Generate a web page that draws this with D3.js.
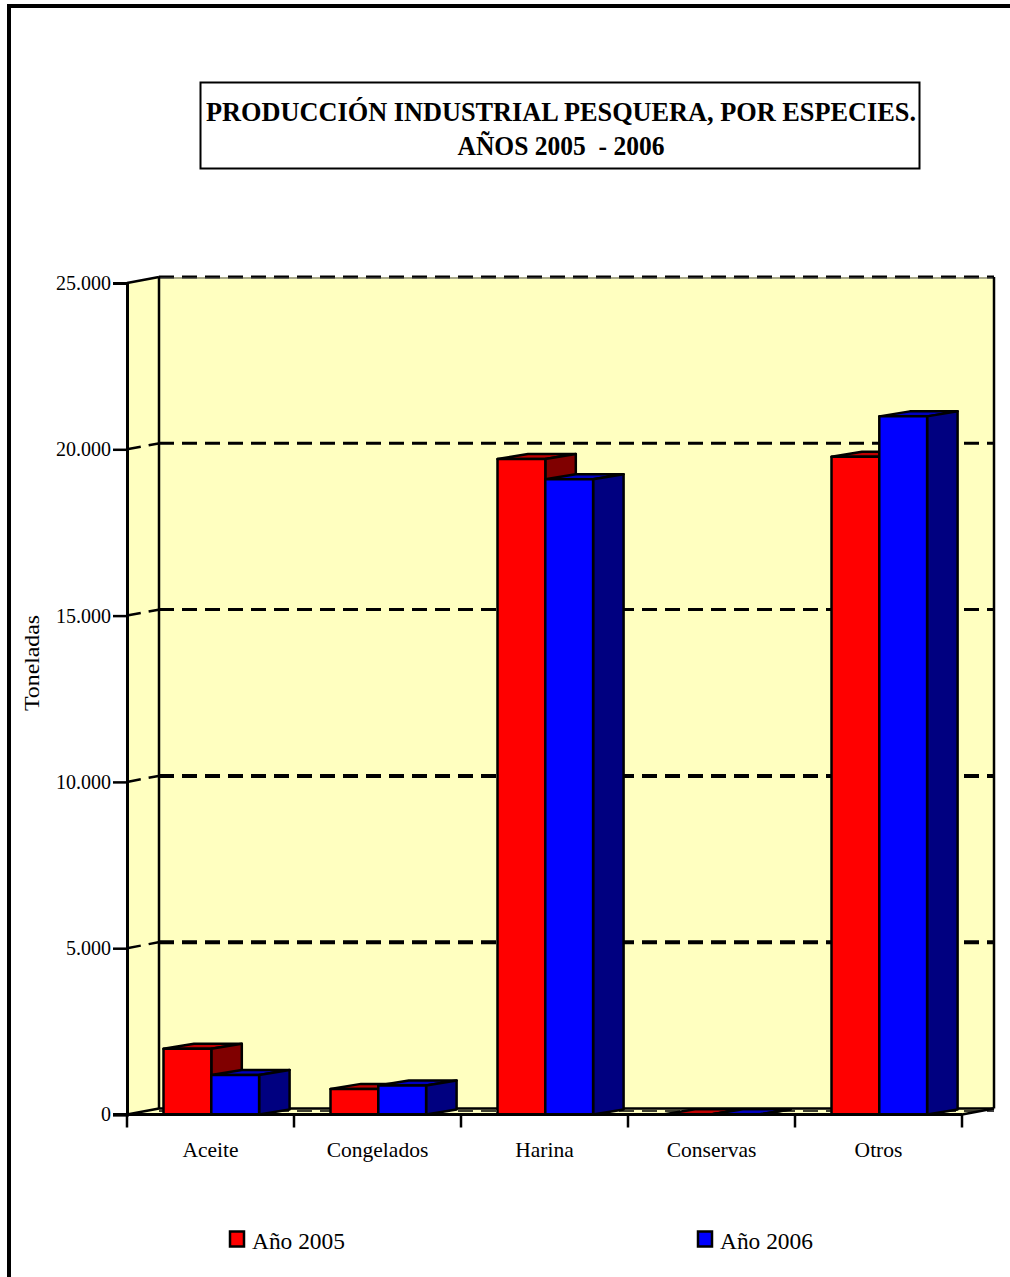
<!DOCTYPE html>
<html>
<head>
<meta charset="utf-8">
<script src="https://cdn.jsdelivr.net/npm/d3@7"></script>
<style>
html, body { margin: 0; padding: 0; background: #fff; overflow: hidden; }
text { font-family: "Liberation Serif", serif; fill: #000; }
</style>
</head>
<body>
<script>
var categories = ['Aceite', 'Congelados', 'Harina', 'Conservas', 'Otros'];
var series = ['Año 2005', 'Año 2006'];
var values2005 = [1975, 770, 19710, 10, 19775];
var values2006 = [1190, 875, 19100, 5, 20990];
var yTicks = [0, 5000, 10000, 15000, 20000, 25000];
var yTickLabels = ['0', '5.000', '10.000', '15.000', '20.000', '25.000'];
var titleLines = ['PRODUCCIÓN INDUSTRIAL PESQUERA, POR ESPECIES.', 'AÑOS 2005  - 2006'];

var width = 1010, height = 1277;

// front plane of the 3d box
var frontLeft = 127, frontRight = 962, baseY = 1114.5, topY = 283;
var wallDx = 32, wallDy = -6;   // back wall offset
var barDx = 30.5, barDy = -5;   // bar depth offset

var svg = d3.select('body').append('svg')
    .attr('width', width)
    .attr('height', height)
    .style('display', 'block');

var x = d3.scaleBand().domain(categories).range([frontLeft, frontRight]);
var y = d3.scaleLinear().domain([0, 25000]).range([baseY, topY]);

var pts = function(list) {
    return list.map(function(p) { return p[0] + ',' + p[1]; }).join(' ');
};

// outer frame
svg.append('path')
    .attr('d', 'M9,1277V6H1010')
    .attr('fill', 'none')
    .attr('stroke', '#000')
    .attr('stroke-width', 4);

// title box
svg.append('rect')
    .attr('x', 200.5).attr('y', 82.5)
    .attr('width', 719).attr('height', 86)
    .attr('fill', '#fff').attr('stroke', '#000').attr('stroke-width', 2);

svg.selectAll('text.title').data(titleLines).enter().append('text')
    .attr('class', 'title')
    .attr('x', 561)
    .attr('y', function(d, i) { return 121 + i * 34; })
    .attr('text-anchor', 'middle')
    .attr('font-size', 28)
    .attr('font-weight', 'bold')
    .attr('xml:space', 'preserve')
    .style('white-space', 'pre')
    .attr('textLength', function(d, i) { return i === 0 ? 710 : 207; })
    .attr('lengthAdjust', 'spacingAndGlyphs')
    .text(function(d) { return d; });

// walls
var wall = svg.append('g');
wall.append('polygon')
    .attr('points', pts([[frontLeft, topY], [frontLeft + wallDx, topY + wallDy], [frontLeft + wallDx, baseY + wallDy], [frontLeft, baseY]]))
    .attr('fill', '#ffffc0');
wall.append('polygon')
    .attr('points', pts([[frontLeft + wallDx, topY + wallDy], [frontRight + wallDx, topY + wallDy], [frontRight + wallDx, baseY + wallDy], [frontLeft + wallDx, baseY + wallDy]]))
    .attr('fill', '#ffffc0');
wall.append('polygon')
    .attr('points', pts([[frontLeft, baseY], [frontRight, baseY], [frontRight + wallDx, baseY + wallDy], [frontLeft + wallDx, baseY + wallDy]]))
    .attr('fill', '#ffffc0');

// dashed gridlines on the back wall, sloping part on the side wall
var grid = svg.append('g');
yTicks.forEach(function(t, i) {
    var py = y(t);
    if (i > 0) {
        grid.append('line')
            .attr('x1', frontLeft + wallDx).attr('x2', frontRight + wallDx)
            .attr('y1', py + wallDy).attr('y2', py + wallDy)
            .attr('stroke', '#000').attr('stroke-width', (t === 5000 || t === 10000) ? 4 : 3)
            .attr('stroke-dasharray', '15 8');
    }
    grid.append('line')
        .attr('x1', frontLeft).attr('x2', frontLeft + wallDx)
        .attr('y1', py).attr('y2', py + wallDy)
        .attr('stroke', '#000').attr('stroke-width', 2.5)
        .attr('stroke-dasharray', (i > 0 && i < 5) ? '14 8 10 0' : null);
});
// thin solid edge under the top dashes
grid.append('line')
    .attr('x1', frontLeft + wallDx).attr('x2', frontRight + wallDx)
    .attr('y1', topY + wallDy + 1).attr('y2', topY + wallDy + 1)
    .attr('stroke', '#555').attr('stroke-width', 1);
// floor back edge, with the dashed zero line just under it
grid.append('line')
    .attr('x1', frontLeft + wallDx).attr('x2', frontRight + wallDx)
    .attr('y1', baseY + wallDy).attr('y2', baseY + wallDy)
    .attr('stroke', '#000').attr('stroke-width', 2.5);
grid.append('line')
    .attr('x1', frontLeft + wallDx).attr('x2', frontRight + wallDx)
    .attr('y1', baseY + wallDy + 2.5).attr('y2', baseY + wallDy + 2.5)
    .attr('stroke', '#000').attr('stroke-width', 1.5)
    .attr('stroke-dasharray', '15 8');
grid.append('line')
    .attr('x1', frontLeft + wallDx).attr('x2', frontLeft + wallDx)
    .attr('y1', topY + wallDy).attr('y2', baseY + wallDy)
    .attr('stroke', '#000').attr('stroke-width', 2.5);
grid.append('line')
    .attr('x1', frontRight + wallDx).attr('x2', frontRight + wallDx)
    .attr('y1', topY + wallDy).attr('y2', baseY + wallDy)
    .attr('stroke', '#000').attr('stroke-width', 2.5);
grid.append('line')
    .attr('x1', frontRight).attr('x2', frontRight + wallDx)
    .attr('y1', baseY).attr('y2', baseY + wallDy)
    .attr('stroke', '#000').attr('stroke-width', 2.5);

// axes
var yAxis = d3.axisLeft(y)
    .tickValues(yTicks)
    .tickSize(14)
    .tickPadding(2)
    .tickFormat(function(d, i) { return yTickLabels[i]; });
var yG = svg.append('g')
    .attr('transform', 'translate(' + frontLeft + ',0)')
    .call(yAxis);
yG.selectAll('text').attr('font-size', 20).style('font-family', '"Liberation Serif", serif');
yG.selectAll('line').attr('stroke-width', 2.5);
yG.select('.domain').attr('stroke-width', 3);

var xAxis = d3.axisBottom(x).tickSize(0).tickPadding(27);
var xG = svg.append('g')
    .attr('transform', 'translate(0,' + baseY + ')')
    .call(xAxis);
xG.select('.domain').remove();
xG.selectAll('text').attr('font-size', 21.5).style('font-family', '"Liberation Serif", serif');

// bars, drawn back to front per category
var barW = 47.8;
var barStart = 36.5;
var colors = [
    { front: '#ff0000', top: '#c00000', side: '#800000' },
    { front: '#0000ff', top: '#0000c0', side: '#000080' }
];
var bars = svg.append('g');
categories.forEach(function(cat, ci) {
    [values2005[ci], values2006[ci]].forEach(function(v, si) {
        var x0 = x(cat) + barStart + si * barW;
        var x1 = x0 + barW;
        var y0 = y(v);
        var c = colors[si];
        var g = bars.append('g')
            .attr('stroke', '#000').attr('stroke-width', 2.5).attr('stroke-linejoin', 'round');
        g.append('polygon')
            .attr('points', pts([[x0, y0], [x0 + barDx, y0 + barDy], [x1 + barDx, y0 + barDy], [x1, y0]]))
            .attr('fill', c.top);
        g.append('polygon')
            .attr('points', pts([[x1, y0], [x1 + barDx, y0 + barDy], [x1 + barDx, baseY + barDy], [x1, baseY]]))
            .attr('fill', c.side);
        if (v > 100) {
            g.append('rect')
                .attr('x', x0).attr('y', y0)
                .attr('width', barW).attr('height', baseY - y0)
                .attr('fill', c.front);
        }
    });
});

// baseline and x ticks on top of the bars
svg.append('line')
    .attr('x1', frontLeft - 14).attr('x2', frontRight)
    .attr('y1', baseY).attr('y2', baseY)
    .attr('stroke', '#000').attr('stroke-width', 3);
var xTickPos = categories.map(function(c) { return x(c); }).concat([frontRight]);
svg.selectAll('line.xtick').data(xTickPos).enter().append('line')
    .attr('class', 'xtick')
    .attr('x1', function(d) { return d; })
    .attr('x2', function(d) { return d; })
    .attr('y1', baseY)
    .attr('y2', baseY + 13)
    .attr('stroke', '#000').attr('stroke-width', 2.5);

// y axis title
svg.append('text')
    .attr('transform', 'translate(39,663) rotate(-90)')
    .attr('text-anchor', 'middle')
    .attr('font-size', 20)
    .attr('textLength', 96)
    .attr('lengthAdjust', 'spacingAndGlyphs')
    .text('Toneladas');

// legend
var legendX = [230, 698];
series.forEach(function(s, i) {
    svg.append('rect')
        .attr('x', legendX[i]).attr('y', 1231.5)
        .attr('width', 14).attr('height', 15)
        .attr('fill', colors[i].front).attr('stroke', '#000').attr('stroke-width', 2.5);
    svg.append('text')
        .attr('x', legendX[i] + 22).attr('y', 1249)
        .attr('font-size', 24)
        .attr('textLength', 93)
        .attr('lengthAdjust', 'spacingAndGlyphs')
        .text(s);
});
</script>
</body>
</html>
